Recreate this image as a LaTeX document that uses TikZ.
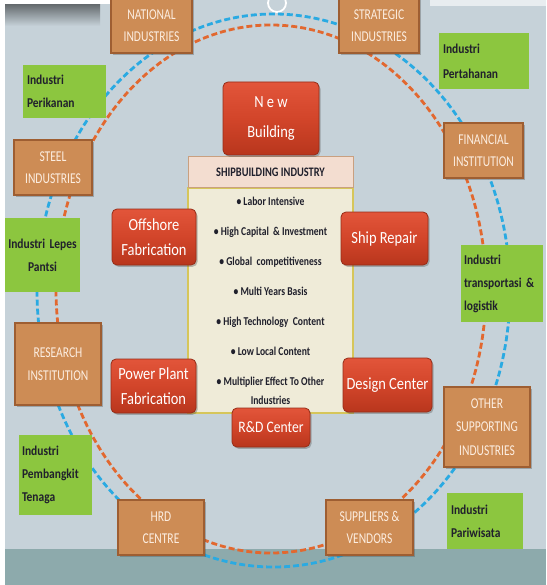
\documentclass[tikz,border=0pt]{standalone}
\usepackage{fontspec}
\setmainfont{Carlito}
\newfontfamily\cbA[FakeStretch=0.77]{Carlito}
\newfontfamily\cbB[FakeStretch=0.85]{Carlito}
\newfontfamily\cbC[FakeStretch=0.8]{Carlito}
\usetikzlibrary{shadows}
\definecolor{bgc}{HTML}{C6D2D9}
\definecolor{bandc}{HTML}{8DAAAC}
\definecolor{brn}{HTML}{CD8C55}
\definecolor{brnD}{HTML}{9E5E32}
\definecolor{brnT}{HTML}{FCEDE0}
\definecolor{redT}{HTML}{E2553A}
\definecolor{redM}{HTML}{D2452A}
\definecolor{redB}{HTML}{B8361D}
\definecolor{redD}{HTML}{962D18}
\definecolor{grn}{HTML}{8CC63F}
\definecolor{orc}{HTML}{E2682F}
\definecolor{blc}{HTML}{2AAAE2}
\definecolor{cream}{HTML}{EFEBD8}
\definecolor{creamD}{HTML}{D6C65A}
\definecolor{hdr}{HTML}{F3DDD0}
\definecolor{hdrD}{HTML}{C9A080}
\definecolor{txtD}{HTML}{20202C}
\tikzset{
  shd/.style={drop shadow={shadow xshift=1.5pt, shadow yshift=-1.8pt, opacity=0.35, fill=black!70}},
  brownbox/.style={draw=brnD, line width=1.2pt, fill=brn, text=brnT, shd,
    font=\cbA\fontsize{15}{22.5}\selectfont, align=center, inner sep=0pt},
  redbox/.style={draw=redD, line width=0.8pt, rounded corners=5pt, top color=redT,
    bottom color=redB, middle color=redM, text=white, shd,
    font=\cbB\fontsize{17}{25}\selectfont, align=center, inner sep=0pt},
  greenbox/.style={fill=grn, text=txtD, inner xsep=4pt, inner ysep=0pt,
    font=\cbB\bfseries\fontsize{13.5}{23}\selectfont, align=left},
  orangedash/.style={draw=orc, line width=2.8pt, dash pattern=on 6pt off 3pt},
  bluedash/.style={draw=blc, line width=2.8pt, dash pattern=on 6pt off 3pt},
}
\begin{document}
\begin{tikzpicture}[x=1pt,y=-1pt]
\useasboundingbox (0,0) rectangle (546,585);
% background
\fill[bgc] (0,0) rectangle (546,585);
\fill[bandc] (0,549) rectangle (546,585);
\shade[top color=black!50!bgc, bottom color=bgc] (5,4) rectangle (100,26);
\fill[white] (0,0) rectangle (110,4);
\fill[white!60!bgc] (430,0) rectangle (546,6);
\fill[white] (0,0) rectangle (5,585);
\draw[white, line width=1.8pt] (277,3) circle [radius=9];
% dashed rings
\draw[bluedash] (273.5,290.5) ellipse [x radius=236.5, y radius=276.5];
\draw[orangedash] (271,289) ellipse [x radius=215, y radius=264];
% central block
\node[draw=creamD, line width=1.2pt, fill=cream, minimum width=165pt, minimum height=225pt,
  inner sep=0pt, text=txtD, font=\cbC\bfseries\fontsize{12}{30}\selectfont, align=center]
  (body) at (270.5,300.5) {• Labor Intensive\\ • High Capital~ \& Investment\\ • Global~ competitiveness\\
  • Multi Years Basis\\ • High Technology~ Content\\ • Low Local Content\\ • Multiplier Effect To Other\\[-11pt] Industries};
\node[draw=hdrD, line width=1pt, fill=hdr, minimum width=165pt, minimum height=31pt, inner sep=0pt,
  text=txtD, font=\cbC\bfseries\fontsize{13}{15}\selectfont] (head) at (270.5,172.5) {SHIPBUILDING INDUSTRY};
% red boxes
\node[redbox, minimum width=96pt, minimum height=73pt, font=\cbB\fontsize{17}{30}\selectfont] (nb) at (271,118.5) {N e w\\ Building};
\node[redbox, minimum width=84pt, minimum height=56pt] (off) at (154,237) {Offshore\\ Fabrication};
\node[redbox, minimum width=87pt, minimum height=53pt] (ship) at (384.5,238.5) {Ship Repair};
\node[redbox, minimum width=85pt, minimum height=54pt] (power) at (153.5,386) {Power Plant\\ Fabrication};
\node[redbox, minimum width=89pt, minimum height=54pt] (design) at (387.5,385) {Design Center};
\node[redbox, minimum width=78pt, minimum height=39pt, font=\cbB\fontsize{16}{20}\selectfont] (rd) at (271,427.5) {R\&D Center};
% brown boxes
\node[brownbox, minimum width=81pt, minimum height=55pt] (nat) at (151.5,25.5) {NATIONAL\\ INDUSTRIES};
\node[brownbox, minimum width=80pt, minimum height=55pt] (strat) at (379,25.5) {STRATEGIC\\ INDUSTRIES};
\node[brownbox, minimum width=79pt, minimum height=55pt] (fin) at (483.5,150.5) {FINANCIAL\\ INSTITUTION};
\node[brownbox, minimum width=78pt, minimum height=55pt] (steel) at (53,167.5) {STEEL\\ INDUSTRIES};
\node[brownbox, minimum width=86pt, minimum height=82pt] (res) at (58,364) {RESEARCH\\ INSTITUTION};
\node[brownbox, minimum width=86pt, minimum height=80pt, font=\cbA\fontsize{15}{23.5}\selectfont] (other) at (487,427) {OTHER\\ SUPPORTING\\ INDUSTRIES};
\node[brownbox, minimum width=86pt, minimum height=55pt] (hrd) at (161,527.5) {HRD\\ CENTRE};
\node[brownbox, minimum width=87pt, minimum height=55pt] (sup) at (369.5,527.5) {SUPPLIERS \&\\ VENDORS};
% green boxes
\node[greenbox, minimum width=83pt, minimum height=53pt, text width=75pt] (perik) at (64.5,91.5) {Industri\\ Perikanan};
\node[greenbox, minimum width=90pt, minimum height=56pt, text width=82pt, font=\cbB\bfseries\fontsize{13.5}{25}\selectfont] (pert) at (484,61) {Industri\\ Pertahanan};
\node[greenbox, minimum width=75pt, minimum height=74pt, text width=73pt, inner xsep=1pt, align=center] (lepes) at (42.5,255) {Industri Lepes\\ Pantsi};
\node[greenbox, minimum width=82pt, minimum height=77pt, text width=76pt, inner xsep=3pt] (transp) at (502,283.5) {Industri\\ transportasi \&\\ logistik};
\node[greenbox, minimum width=73pt, minimum height=80pt, text width=67pt, inner xsep=3pt] (pemb) at (55.5,475) {Industri\\ Pembangkit\\ Tenaga};
\node[greenbox, minimum width=76pt, minimum height=56pt, text width=68pt] (pariw) at (485,521) {Industri\\ Pariwisata};
\end{tikzpicture}
\end{document}
